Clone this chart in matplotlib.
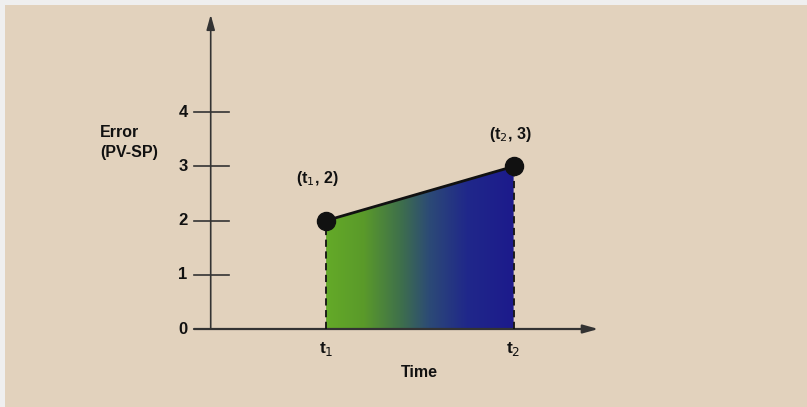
import numpy as np
import matplotlib.pyplot as plt
from matplotlib.colors import LinearSegmentedColormap
from matplotlib.patches import Polygon, Rectangle

# Error curve between two sample times
t_points = [2.0, 5.25]
error_values = [2, 3]
point_labels = ["(t$_1$, 2)", "(t$_2$, 3)"]
time_labels = ["t$_1$", "t$_2$"]
y_ticks = [0, 1, 2, 3, 4]

BG = "#e2d2bd"
INK = "#111111"
FONT = ["Liberation Sans Narrow", "Liberation Sans", "DejaVu Sans"]

fig = plt.figure(figsize=(8.07, 4.07), dpi=100)
fig.patch.set_facecolor(BG)
ax = fig.add_axes([0, 0, 1, 1])
ax.set_facecolor(BG)
ax.set_xlim(-3.652, 10.335)
ax.set_ylim(-1.439, 6.070)
ax.axis("off")

# thin pale border along the top and left edges
fig.patches.append(Rectangle((0, 1 - 5 / 407), 1, 5 / 407, transform=fig.transFigure,
                             facecolor="#efefef", edgecolor="none", zorder=10))
fig.patches.append(Rectangle((0, 0), 5 / 807, 1, transform=fig.transFigure,
                             facecolor="#efefef", edgecolor="none", zorder=10))

# gradient-filled area under the error line
cmap = LinearSegmentedColormap.from_list(
    "err", [(0.0, "#64aa28"), (0.2, "#5a9a2a"), (0.4, "#3e6f4c"),
            (0.55, "#2c4a76"), (0.75, "#20288a"), (1.0, "#1c1a8c")])
grad = np.linspace(0, 1, 256).reshape(1, -1)
x0, x1 = t_points
im = ax.imshow(grad, cmap=cmap, aspect="auto",
               extent=[x0, x1, 0, max(error_values)], zorder=2, interpolation="bilinear")
poly = Polygon([(x0, 0), (x0, error_values[0]), (x1, error_values[1]), (x1, 0)],
               closed=True, facecolor="none", edgecolor="none")
ax.add_patch(poly)
im.set_clip_path(poly)

# axes with arrowheads
ax.annotate("", xy=(0, 5.80), xytext=(0, 0),
            arrowprops=dict(arrowstyle="-|>,head_length=0.9,head_width=0.25",
                            color="#333333", lw=1.2, shrinkA=0, shrinkB=0), zorder=3)
ax.annotate("", xy=(6.72, 0), xytext=(-0.29, 0),
            arrowprops=dict(arrowstyle="-|>,head_length=0.9,head_width=0.25",
                            color="#333333", lw=1.6, shrinkA=0, shrinkB=0), zorder=3)

# y ticks
for v in y_ticks:
    if v > 0:
        ax.plot([-0.29, 0.31], [v, v], color="#333333", lw=1.2, zorder=3)
    ax.text(-0.48, v, str(v), ha="center", va="center", fontsize=12,
            fontweight="bold", family=FONT, color=INK)

ax.text(-1.92, 3.62, "Error", ha="left", va="center", fontsize=11.5,
        fontweight="bold", family=FONT, color=INK)
ax.text(-1.92, 3.25, "(PV-SP)", ha="left", va="center", fontsize=11.5,
        fontweight="bold", family=FONT, color=INK)

# dashed drop lines and the error line
for t, e in zip(t_points, error_values):
    ax.plot([t, t], [0, e], color=INK, lw=1.3, ls=(0, (4, 2.5)), zorder=4)
ax.plot(t_points, error_values, color=INK, lw=2.0, zorder=5)
ax.plot(t_points, error_values, "o", color=INK, ms=13, zorder=6)

# point labels
ax.text(t_points[0] - 0.16, error_values[0] + 0.78, point_labels[0], ha="center",
        va="center", fontsize=11.5, fontweight="bold", family=FONT, color=INK)
ax.text(t_points[1] - 0.06, error_values[1] + 0.58, point_labels[1], ha="center",
        va="center", fontsize=11.5, fontweight="bold", family=FONT, color=INK)

# time labels
for t, lab in zip(t_points, time_labels):
    ax.text(t, -0.36, lab, ha="center", va="center", fontsize=12.5,
            fontweight="bold", family=FONT, color=INK)
ax.text(3.62, -0.80, "Time", ha="center", va="center", fontsize=11.5,
        fontweight="bold", family=FONT, color=INK)

fig.savefig("out.png", dpi=100, facecolor=BG)
